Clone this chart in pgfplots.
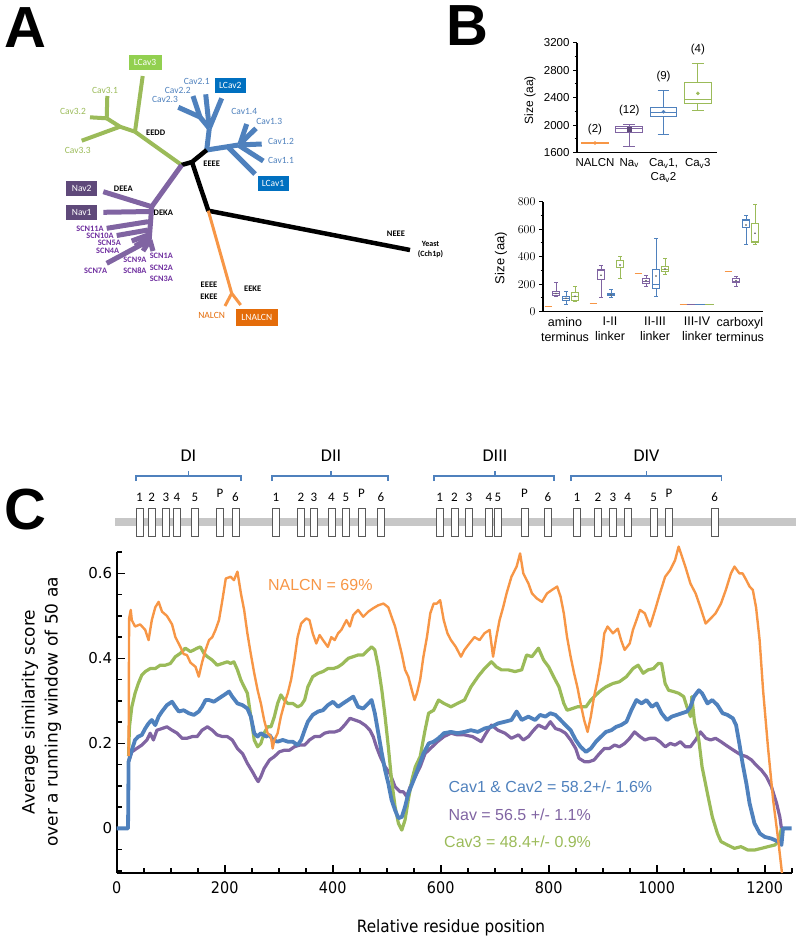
\documentclass[border=0pt]{standalone}
\usepackage{fontspec}
\setmainfont{Liberation Sans}
\newfontfamily\carlito{Carlito}
\newfontfamily\dejavu{DejaVu Sans}
\newfontfamily\dejacond{DejaVu Sans Condensed}
\usepackage{pgfplots}
\pgfplotsset{compat=1.18}
\newcommand{\fs}[1]{\fontsize{#1}{#1}\selectfont}
\definecolor{cOr}{HTML}{F79646}
\definecolor{cPu}{HTML}{8064A2}
\definecolor{cBl}{HTML}{4F81BD}
\definecolor{cGr}{HTML}{9BBB59}
\definecolor{cGrBox}{HTML}{92D050}
\definecolor{cBlBox}{HTML}{0070C0}
\definecolor{cPuBox}{HTML}{5F497A}
\definecolor{cOrBox}{HTML}{E46C0A}
\definecolor{cPuTxt}{HTML}{7030A0}
\pgfdeclareplotmark{dbox}{\pgfpathrectangle{\pgfpoint{-3.5pt}{-14pt}}{\pgfpoint{7pt}{28pt}}\pgfusepathqfillstroke}
% box: #1 colour, #2 x, #3 half width, #4 half cap, #5 low whisker, #6 q1, #7 median, #8 q3, #9 high whisker
\newcommand{\bxp}[9]{%
 \pgfmathsetmacro{\xa}{#2-#3}\pgfmathsetmacro{\xb}{#2+#3}%
 \pgfmathsetmacro{\ca}{#2-#4}\pgfmathsetmacro{\cb}{#2+#4}%
 \edef\bxptmp{%
  \noexpand\addplot[#1, line width=1pt, line join=miter] coordinates {(\xa,#6)(\xb,#6)(\xb,#8)(\xa,#8)(\xa,#6)(\xb,#6)};
  \noexpand\addplot[#1, line width=1pt] coordinates {(\xa,#7)(\xb,#7)};
  \noexpand\addplot[#1, line width=1pt] coordinates {(#2,#8)(#2,#9)};
  \noexpand\addplot[#1, line width=1pt] coordinates {(#2,#6)(#2,#5)};
  \noexpand\addplot[#1, line width=1pt] coordinates {(\ca,#9)(\cb,#9)};
  \noexpand\addplot[#1, line width=1pt] coordinates {(\ca,#5)(\cb,#5)};}%
 \bxptmp}
\tikzset{
 tl/.style={font=\carlito\fs{9.5}},
 tb/.style={font=\carlito\bfseries\fs{8.5}},
 ts/.style={font=\carlito\bfseries\fs{8.3}, text=cPuTxt, inner sep=0pt},
 bx/.style={font=\carlito\fs{9.5}, text=white, inner sep=0pt, minimum height=15pt, minimum width=31pt},
}
\begin{document}
\begin{tikzpicture}
\path[use as bounding box] (0pt,0pt) rectangle (796pt,-943pt);
% panel letters
\node[font=\bfseries\fs{58}] at (25pt,-28pt) {A};
\node[font=\bfseries\fs{58}] at (467pt,-26pt) {B};
\node[font=\bfseries\fs{58}] at (25pt,-510pt) {C};

% ---------------- Panel A: tree ----------------
\begin{axis}[at={(0pt,-330pt)}, anchor=south west, scale only axis, width=420pt, height=330pt,
  xmin=0, xmax=420, ymin=0, ymax=330, y dir=reverse, axis lines=none, clip=false]
% green
\addplot[cGr, line width=4pt] coordinates {(181.7,165)(135,131.7)};
\addplot[cGr, line width=4pt] coordinates {(135,131.7)(142.7,76)};
\addplot[cGr, line width=4pt] coordinates {(135,131.7)(120,126.7)};
\addplot[cGr, line width=4pt] coordinates {(120,126.7)(81.7,140.7)};
\addplot[cGr, line width=4pt] coordinates {(120,126.7)(106.7,118.3)};
\addplot[cGr, line width=4pt] coordinates {(106.7,118.3)(107.3,96)};
\addplot[cGr, line width=4pt] coordinates {(106.7,118.3)(90,117.3)};
% blue
\addplot[cBl, line width=5pt] coordinates {(206.7,150)(209.3,128.3)};
\addplot[cBl, line width=5pt] coordinates {(209.3,128.3)(221.7,98.3)};
\addplot[cBl, line width=5pt] coordinates {(209.3,128.3)(205.7,94.3)};
\addplot[cBl, line width=5pt] coordinates {(209.3,128.3)(200,117)};
\addplot[cBl, line width=5pt] coordinates {(200,117)(193,96)};
\addplot[cBl, line width=5pt] coordinates {(200,117)(178.3,107.3)};
\addplot[cBl, line width=5pt] coordinates {(206.7,150)(238.3,145)};
\addplot[cBl, line width=5pt] coordinates {(228,147)(255,174)};
\addplot[cBl, line width=5pt] coordinates {(238.3,145)(263.3,161)};
\addplot[cBl, line width=5pt] coordinates {(238.3,145)(261.7,144)};
\addplot[cBl, line width=5pt] coordinates {(240,144)(256,128.3)};
\addplot[cBl, line width=5pt] coordinates {(240,144)(246.7,124)};
% black
\addplot[black, line width=4.5pt, line join=round] coordinates {(181.7,165)(192,162)(206.7,150)};
\addplot[black, line width=4.5pt, line join=round] coordinates {(192,162)(208.3,210.7)(410,250)};
% purple
\addplot[cPu, line width=5pt] coordinates {(181.7,165)(151.7,206.7)};
\addplot[cPu, line width=5pt] coordinates {(151.7,206.7)(103.3,191.7)};
\addplot[cPu, line width=5pt] coordinates {(150,211.5)(103.3,212.3)};
\addplot[cPu, line width=5pt] coordinates {(151.7,206.7)(149,242)};
\addplot[cPu, line width=5pt] coordinates {(148,221.7)(106.7,228.3)};
\addplot[cPu, line width=5pt] coordinates {(148,230)(116.7,235.5)};
\addplot[cPu, line width=5pt] coordinates {(148,235)(131.7,241)};
\addplot[cPu, line width=5pt] coordinates {(149,238)(135,246)};
\addplot[cPu, line width=5pt] coordinates {(150,240)(106.7,263.3)};
\addplot[cPu, line width=5pt] coordinates {(150,240)(143,251)};
\addplot[cPu, line width=5pt] coordinates {(150,240)(153,251)};
% orange
\addplot[cOr, line width=3pt] coordinates {(208.3,210.7)(231.7,293.3)};
\addplot[cOr, line width=3pt] coordinates {(231.7,293.3)(225,306)};
\addplot[cOr, line width=3pt] coordinates {(231.7,293.3)(240.7,305)};
% labels
\node[bx, fill=cGrBox, minimum width=33pt] at (axis cs:145,62.5) {LCav3};
\node[bx, fill=cBlBox] at (axis cs:230.3,85.8) {LCav2};
\node[bx, fill=cBlBox] at (axis cs:273,183) {LCav1};
\node[bx, fill=cPuBox] at (axis cs:81.7,188.5) {Nav2};
\node[bx, fill=cPuBox] at (axis cs:81.7,212.3) {Nav1};
\node[bx, fill=cOrBox, minimum width=42pt, minimum height=17pt] at (axis cs:256.8,317) {LNALCN};
\node[tl, text=cGr] at (axis cs:105,90) {Cav3.1};
\node[tl, text=cGr] at (axis cs:73,111.7) {Cav3.2};
\node[tl, text=cGr] at (axis cs:77.7,150) {Cav3.3};
\node[tl, text=cBl] at (axis cs:196.7,81.7) {Cav2.1};
\node[tl, text=cBl] at (axis cs:177.7,90) {Cav2.2};
\node[tl, text=cBl] at (axis cs:165,99) {Cav2.3};
\node[tl, text=cBl] at (axis cs:244.3,111.7) {Cav1.4};
\node[tl, text=cBl] at (axis cs:269.3,121.7) {Cav1.3};
\node[tl, text=cBl] at (axis cs:281,141.7) {Cav1.2};
\node[tl, text=cBl] at (axis cs:281,160) {Cav1.1};
\node[tb] at (axis cs:155.7,132.3) {EEDD};
\node[tb] at (axis cs:211.7,164) {EEEE};
\node[tb] at (axis cs:123.3,188.3) {DEEA};
\node[tb] at (axis cs:163.3,212.3) {DEKA};
\node[tb] at (axis cs:209,285) {EEEE};
\node[tb] at (axis cs:209,296.7) {EKEE};
\node[tb] at (axis cs:252.7,288.3) {EEKE};
\node[tb] at (axis cs:396,234) {NEEE};
\node[tb, align=center, font=\carlito\bfseries\fs{8}, inner sep=0pt] at (axis cs:430.5,250) {Yeast\\[2pt](Cch1p)};
\node[tl, text=cOrBox] at (axis cs:211.7,315) {NALCN};
\node[ts] at (axis cs:90,228.3) {SCN11A};
\node[ts] at (axis cs:100,235.5) {SCN10A};
\node[ts] at (axis cs:109.3,242.5) {SCN5A};
\node[ts] at (axis cs:107.7,250.5) {SCN4A};
\node[ts] at (axis cs:95.7,270.7) {SCN7A};
\node[ts] at (axis cs:135,260) {SCN9A};
\node[ts] at (axis cs:135,271) {SCN8A};
\node[ts] at (axis cs:161.3,256) {SCN1A};
\node[ts] at (axis cs:161.3,267.3) {SCN2A};
\node[ts] at (axis cs:161.3,278.3) {SCN3A};
\end{axis}

% ---------------- Panel B top ----------------
\begin{axis}[at={(577pt,-152.7pt)}, anchor=south west, scale only axis, width=140pt, height=110pt,
  xmin=0.475, xmax=4.56, ymin=1600, ymax=3200, axis lines=left, axis line style={line width=1.2pt,-},
  ytick={1600,2000,2400,2800,3200}, yticklabels={1600,2000,2400,2800,3200},
  minor ytick={1800,2200,2600,3000}, tick align=outside, major tick length=4pt, minor tick length=2.5pt,
  ytick style={black, line width=1pt}, xtick={1,2,3,4}, xtick style={draw=none},
  xticklabels={NALCN, Na\textsubscript{v}, {Ca\textsubscript{v}1,\\Ca\textsubscript{v}2}, Ca\textsubscript{v}3},
  xticklabel style={align=center, font=\fontsize{11.5}{14}\selectfont, yshift=2pt}, yticklabel style={font=\fs{11.5}},
  clip=false]
\addplot[cOr, line width=1.3pt] coordinates {(0.6,1740)(1.4,1740)};
\addplot[only marks, mark=*, mark size=1.6pt, cOr] coordinates {(1,1740)};
\bxp{cPu}{2}{0.4}{0.17}{1687}{1896}{1950}{1978}{2017}
\addplot[only marks, mark=square*, mark size=2pt, cPuBox] coordinates {(2,1940)};
\bxp{cBl}{3}{0.38}{0.17}{1871}{2133}{2180}{2259}{2511}
\addplot[only marks, mark=*, mark size=1.6pt, cBl] coordinates {(3,2196)};
\bxp{cGr}{4}{0.4}{0.17}{2221}{2318}{2376}{2618}{2899}
\addplot[only marks, mark=*, mark size=1.6pt, cGr] coordinates {(4,2463)};
\node[font=\fs{11.5}] at (axis cs:1,1930) {(2)};
\node[font=\fs{11.5}] at (axis cs:2,2220) {(12)};
\node[font=\fs{11.5}] at (axis cs:3,2705) {(9)};
\node[font=\fs{11.5}] at (axis cs:4,3103) {(4)};
\end{axis}
\node[rotate=90, font=\fs{12}] at (530pt,-100pt) {Size (aa)};

% ---------------- Panel B bottom ----------------
\begin{axis}[at={(543pt,-311.7pt)}, anchor=south west, scale only axis, width=220pt, height=110pt,
  xmin=543, xmax=763, ymin=0, ymax=800, axis lines=left, axis line style={line width=1.2pt,-},
  ytick={0,200,400,600,800}, minor ytick={100,300,500,700}, tick align=outside,
  major tick length=4pt, minor tick length=2.5pt, ytick style={black, line width=1pt},
  xtick={565,610,655,697,740}, xtick style={draw=none},
  xticklabels={amino\\terminus, I-II\\linker, II-III\\linker, III-IV\\linker, carboxyl\\terminus},
  xticklabel style={align=center, font=\fontsize{12.5}{15}\selectfont, yshift=2pt},
  yticklabel style={font=\fs{13}}, clip=false]
% amino
\addplot[cOr, line width=1.2pt] coordinates {(544.5,40)(551.5,40)};
\bxp{cPu}{556}{3.5}{2}{110}{120}{130}{145}{210}
\bxp{cBl}{566}{3.5}{2}{50}{80}{95}{110}{150}
\bxp{cGr}{575}{3.5}{2}{75}{85}{110}{140}{185}
% I-II
\addplot[cOr, line width=1.2pt] coordinates {(589.5,60)(596.5,60)};
\bxp{cPu}{601}{3.5}{2}{100}{235}{300}{310}{335}
\bxp{cBl}{611}{3.5}{2}{100}{115}{122}{130}{160}
\bxp{cGr}{620}{3.5}{2}{240}{320}{370}{375}{400}
% II-III
\addplot[cOr, line width=1.2pt] coordinates {(634.5,280)(641.5,280)};
\bxp{cPu}{646}{3.5}{2}{185}{205}{222}{240}{265}
\bxp{cBl}{656}{3.5}{2}{110}{170}{200}{310}{530}
\bxp{cGr}{665}{3.5}{2}{270}{290}{305}{330}{385}
% III-IV
\addplot[cOr, line width=1.2pt] coordinates {(679.5,50)(686.5,50)};
\addplot[cPu, line width=1.2pt] coordinates {(686.5,50)(695,50)};
\addplot[cBl, line width=1.2pt] coordinates {(695,50)(705,50)};
\addplot[cGr, line width=1.2pt] coordinates {(705,50)(714,50)};
% carboxyl
\addplot[cOr, line width=1.2pt] coordinates {(724.5,290)(731.5,290)};
\bxp{cPu}{736}{3.5}{2}{185}{210}{222}{240}{255}
\bxp{cBl}{746}{3.5}{2}{490}{610}{665}{670}{700}
\bxp{cGr}{755}{3.5}{2}{490}{500}{510}{645}{780}
% means
\addplot[only marks, mark=*, mark size=0.6pt, black!60] coordinates {(556,132)(566,98)(575,112)(601,265)(611,122)(620,340)(646,225)(656,260)(665,310)(736,225)(746,630)(755,570)};
\end{axis}
\node[rotate=90, font=\fs{13}] at (501pt,-258pt) {Size (aa)};

% ---------------- Panel C: domain diagram ----------------
\begin{axis}[at={(0pt,-540pt)}, anchor=south west, scale only axis, width=796pt, height=100pt,
  xmin=0, xmax=796, ymin=440, ymax=540, y dir=reverse, axis lines=none, clip=false]
\addplot[black!22, line width=8pt] coordinates {(115,522)(796,522)};
\addplot[only marks, mark=dbox, mark options={fill=white, draw=black!65, line width=0.8pt}] coordinates {
(139.5,522)(151.6,522)(166,522)(177,522)(195,522)(220,522)(235.5,522)
(276,522)(301,522)(314,522)(331.5,522)(346,522)(361.6,522)(381,522)
(439.7,522)(454.5,522)(469,522)(489,522)(498,522)(524.5,522)(548,522)
(577,522)(598,522)(613,522)(627.7,522)(653.7,522)(669,522)(714.7,522)};
\addplot[only marks, mark=none, nodes near coords, point meta=explicit symbolic,
  nodes near coords align={center}, every node near coord/.append style={font=\carlito\fs{13}, inner sep=0pt}]
  table[meta=l] {
x y l
139.5 497 1
151.6 497 2
166 497 3
177 497 4
195 497 5
220 493 P
235.5 497 6
276 497 1
301 497 2
314 497 3
331.5 497 4
346 497 5
361.6 493 P
381 497 6
439.7 497 1
454.5 497 2
469 497 3
489 497 4
498 497 5
524.5 493 P
548 497 6
577 497 1
598 497 2
613 497 3
627.7 497 4
653.7 497 5
669 493 P
714.7 497 6
};
% braces
\addplot[cBl, line width=1.6pt] coordinates {(136,481)(136,476)(241,476)(241,481)};
\addplot[cBl, line width=1.6pt] coordinates {(188.4,476)(188.4,471)};
\addplot[cBl, line width=1.6pt] coordinates {(272,481)(272,476)(388,476)(388,481)};
\addplot[cBl, line width=1.6pt] coordinates {(331,476)(331,471)};
\addplot[cBl, line width=1.6pt] coordinates {(434,481)(434,476)(554,476)(554,481)};
\addplot[cBl, line width=1.6pt] coordinates {(495,476)(495,471)};
\addplot[cBl, line width=1.6pt] coordinates {(571,481)(571,476)(721.5,476)(721.5,481)};
\addplot[cBl, line width=1.6pt] coordinates {(646.5,476)(646.5,471)};
\node[font=\carlito\fs{18}] at (axis cs:188.4,456) {DI};
\node[font=\carlito\fs{18}] at (axis cs:331,456) {DII};
\node[font=\carlito\fs{18}] at (axis cs:495,456) {DIII};
\node[font=\carlito\fs{18}] at (axis cs:646.5,456) {DIV};
\end{axis}

% ---------------- Panel C: similarity plot ----------------
\begin{axis}[at={(116.7pt,-873pt)}, anchor=south west, scale only axis, width=675pt, height=321.3pt,
  xmin=0, xmax=1250, ymin=-0.105, ymax=0.651, axis lines=left, axis line style={line width=2.4pt,-},
  clip=false, tick align=inside,
  xtick={0,200,...,1200}, minor xtick={50,100,...,1250},
  ytick={0,0.2,0.4,0.6}, yticklabels={0,0.2,0.4,0.6},
  minor ytick={-0.1,-0.05,0.05,0.1,0.15,0.25,0.3,0.35,0.45,0.5,0.55,0.65},
  major tick length=8pt, minor tick length=5pt,
  every tick/.style={black, line width=1.6pt},
  /pgf/number format/assume math mode=true,
  /pgf/number format/1000 sep={},
  xticklabel style={font=\dejacond\fs{16}, yshift=-5pt},
  yticklabel style={font=\dejavu\fs{15}, xshift=-1pt},
  line join=round]
% purple (Nav)
\addplot[cPu, line width=3.2pt] coordinates {
(22,0.157)(28,0.18)(37,0.188)(46.6,0.196)(56,0.208)(62,0.224)(68,0.208)(74.5,0.231)(84,0.235)(93,0.239)(102.5,0.231)(112,0.224)(121,0.212)(130,0.212)(140,0.216)(149,0.216)(158,0.231)(168,0.239)(177,0.231)(186,0.22)(195.7,0.216)(205,0.216)(214,0.208)(223.6,0.188)(233,0.176)(242,0.153)(251.5,0.133)(258,0.118)(262,0.11)(267,0.122)(273,0.141)(283,0.161)(292,0.169)(301,0.18)(310.6,0.184)(320,0.184)(329,0.192)(339,0.196)(348,0.196)(357,0.208)(366.5,0.216)(376,0.216)(385,0.224)(394,0.227)(404,0.227)(413,0.231)(422,0.243)(432,0.259)(441,0.255)(450,0.251)(459.6,0.243)(469,0.231)(475,0.216)(481,0.192)(488,0.169)(497,0.145)(506,0.129)(515.5,0.098)(525,0.086)(531,0.086)(537,0.075)(543.5,0.098)(553,0.122)(562,0.145)(571,0.176)(581,0.188)(594,0.204)(606,0.216)(619,0.224)(631,0.22)(644,0.22)(659,0.216)(675,0.204)(684,0.224)(694,0.243)(706,0.231)(719,0.224)(731,0.212)(744,0.22)(753,0.208)(762.5,0.216)(772,0.231)(781,0.243)(794,0.235)(803,0.251)(812.5,0.235)(822,0.231)(831,0.224)(840.6,0.208)(850,0.188)(856,0.165)(866,0.157)(875,0.157)(884,0.161)(894,0.176)(903,0.188)(912.5,0.188)(922,0.196)(931,0.192)(941,0.2)(950,0.212)(959,0.227)(969,0.216)(978,0.208)(987.5,0.212)(997,0.212)(1006,0.204)(1016,0.192)(1025,0.2)(1034,0.196)(1044,0.204)(1053,0.192)(1062.5,0.192)(1072,0.208)(1081,0.227)(1091,0.212)(1100,0.208)(1109,0.212)(1119,0.204)(1128,0.196)(1137.5,0.188)(1147,0.18)(1156,0.173)(1166,0.169)(1175.6,0.161)(1184,0.149)(1194,0.137)(1203,0.122)(1212.5,0.098)(1222,0.059)(1228,0.027)(1231,0)};
% green (Cav3)
\addplot[cGr, line width=3.2pt] coordinates {
(22,0.17)(23.6,0.239)(28,0.286)(34,0.318)(40,0.341)(46.6,0.361)(52.8,0.369)(62,0.376)(71.4,0.376)(80.7,0.384)(90,0.384)(99.4,0.388)(108.7,0.404)(118,0.412)(127,0.424)(136.6,0.416)(143,0.42)(149,0.424)(155,0.427)(161.5,0.412)(168,0.404)(177,0.396)(186,0.384)(195.7,0.388)(205,0.392)(211,0.388)(217,0.392)(223.6,0.373)(230,0.349)(236,0.333)(242,0.318)(248.4,0.263)(254.7,0.208)(261,0.192)(267,0.2)(273,0.224)(279.5,0.239)(285.7,0.239)(292,0.263)(298,0.294)(304,0.314)(310.6,0.302)(316.8,0.294)(326,0.294)(335,0.286)(341.6,0.29)(348,0.302)(354,0.333)(363,0.357)(373,0.365)(382,0.369)(391,0.376)(401,0.376)(410,0.38)(419,0.388)(428.6,0.4)(438,0.404)(447,0.408)(456.5,0.408)(466,0.42)(472,0.427)(478,0.42)(484.5,0.38)(491,0.325)(497,0.263)(503,0.192)(509,0.114)(515.5,0.051)(521.7,0.012)(528,-0.004)(534,0.02)(540,0.067)(546.6,0.114)(553,0.145)(562,0.169)(571,0.231)(577.6,0.271)(587,0.278)(596,0.302)(606,0.294)(619,0.286)(631,0.294)(644,0.302)(656,0.333)(669,0.357)(681,0.376)(694,0.392)(703,0.38)(712.5,0.373)(725,0.373)(737.5,0.369)(750,0.373)(759,0.408)(769,0.404)(781,0.424)(790.6,0.396)(800,0.38)(809,0.357)(819,0.333)(828,0.294)(834,0.278)(844,0.282)(853,0.286)(862.5,0.286)(869,0.286)(878,0.302)(887.5,0.314)(897,0.325)(906,0.333)(919,0.341)(931,0.345)(944,0.357)(956,0.376)(965.6,0.384)(975,0.365)(984,0.373)(994,0.376)(1003,0.388)(1009,0.388)(1015.6,0.341)(1022,0.325)(1031,0.322)(1040.6,0.318)(1050,0.31)(1056,0.286)(1062.5,0.263)(1065,0.31)(1070,0.25)(1078,0.208)(1084,0.145)(1094,0.082)(1103,0.027)(1112.5,-0.012)(1119,-0.031)(1131,-0.039)(1144,-0.047)(1156,-0.043)(1169,-0.051)(1181,-0.051)(1194,-0.047)(1206,-0.043)(1219,-0.039)(1225,-0.031)(1231,0)};
% blue (Cav1 & Cav2)
\addplot[cBl, line width=3.8pt] coordinates {
(0,0)(21,0)(22,0.157)(28,0.184)(34,0.208)(40,0.216)(46.6,0.22)(52.8,0.235)(59,0.247)(65,0.255)(71.4,0.243)(77.6,0.263)(83.9,0.275)(93,0.29)(102.5,0.298)(108.7,0.286)(115,0.275)(124,0.278)(133.5,0.271)(143,0.267)(152,0.275)(158,0.286)(164.6,0.302)(171,0.302)(180,0.298)(189.4,0.306)(199,0.314)(208,0.322)(214,0.31)(223.6,0.294)(233,0.29)(242,0.282)(248.4,0.263)(254.7,0.224)(261,0.216)(267,0.224)(276.4,0.216)(283,0.22)(289,0.208)(298,0.204)(307.5,0.208)(317,0.204)(326,0.204)(335,0.196)(341.6,0.208)(348,0.231)(354,0.251)(363,0.267)(373,0.275)(382,0.278)(391,0.29)(400.6,0.298)(410,0.286)(419,0.294)(428.6,0.302)(438,0.31)(447,0.286)(456.5,0.282)(466,0.294)(472,0.302)(478,0.271)(484.5,0.224)(491,0.176)(497,0.137)(503,0.106)(509,0.067)(515.5,0.043)(521.7,0.024)(528,0.027)(534,0.051)(540,0.082)(550,0.114)(559,0.145)(568,0.176)(578,0.2)(587,0.204)(596,0.212)(606,0.224)(619,0.227)(631,0.224)(644,0.227)(656,0.231)(669,0.227)(681,0.235)(694,0.239)(706,0.247)(719,0.251)(731,0.255)(740.6,0.275)(750,0.255)(762.5,0.263)(775,0.255)(784,0.267)(794,0.263)(803,0.271)(812.5,0.267)(822,0.255)(831,0.243)(840.6,0.231)(850,0.208)(859,0.192)(869,0.18)(878,0.188)(887.5,0.204)(897,0.216)(906,0.227)(916,0.231)(925,0.239)(934,0.243)(944,0.251)(953,0.278)(962.5,0.302)(972,0.294)(981,0.302)(991,0.286)(1000,0.294)(1009,0.271)(1019,0.255)(1028,0.263)(1037.5,0.267)(1047,0.271)(1056,0.275)(1062.5,0.286)(1069,0.31)(1078,0.325)(1084,0.318)(1094,0.294)(1103,0.302)(1112.5,0.29)(1122,0.271)(1131,0.267)(1141,0.259)(1147,0.243)(1153,0.2)(1159,0.153)(1166,0.106)(1172,0.059)(1181,0.012)(1191,-0.012)(1200,-0.02)(1212.5,-0.024)(1225,-0.031)(1231,-0.039)(1234,0)(1250,0)};
% orange (NALCN)
\addplot[cOr, line width=2.4pt] coordinates {
(22,0.17)(23,0.494)(26,0.514)(28,0.49)(34,0.475)(43.5,0.48)(52.8,0.467)(59,0.443)(65,0.49)(71.4,0.52)(77.6,0.533)(83.9,0.51)(93,0.5)(102.5,0.48)(108.7,0.45)(118,0.427)(124,0.41)(130,0.408)(136.6,0.39)(146,0.38)(152,0.357)(158,0.39)(164.6,0.42)(171,0.443)(177,0.45)(183,0.467)(189.4,0.49)(195.7,0.537)(202,0.588)(211,0.592)(217,0.584)(223.6,0.604)(230,0.553)(236,0.514)(242,0.459)(248.4,0.41)(254.7,0.365)(261,0.325)(267,0.294)(273,0.255)(279.5,0.224)(285.7,0.216)(288.8,0.188)(292,0.208)(298,0.224)(304,0.263)(310.6,0.294)(316.8,0.318)(323,0.35)(329,0.396)(335,0.45)(341.6,0.482)(351,0.494)(357,0.49)(363,0.459)(369.6,0.435)(375.8,0.455)(382,0.443)(391,0.427)(397.5,0.45)(403.7,0.443)(410,0.459)(416,0.467)(425.5,0.49)(431.7,0.475)(438,0.502)(447,0.514)(456.5,0.498)(466,0.51)(475,0.518)(484.5,0.525)(494,0.529)(503,0.52)(509,0.498)(515.5,0.475)(521.7,0.443)(528,0.41)(534,0.373)(540,0.357)(546.6,0.325)(551.6,0.302)(556,0.318)(562,0.35)(568,0.404)(574.5,0.45)(580.7,0.506)(587,0.529)(593,0.529)(599,0.537)(605.6,0.49)(612.5,0.459)(619,0.443)(628,0.427)(637.5,0.404)(644,0.42)(653,0.435)(662.5,0.45)(672,0.443)(681,0.459)(690.6,0.467)(697,0.404)(703,0.45)(709,0.49)(715.6,0.52)(722,0.553)(731,0.592)(740.6,0.616)(747,0.647)(753,0.6)(762.5,0.576)(769,0.553)(778,0.541)(787.5,0.533)(797,0.553)(806,0.561)(815.6,0.569)(822,0.545)(828,0.506)(834,0.45)(840.6,0.404)(847,0.365)(853,0.333)(859,0.294)(865.6,0.255)(872,0.227)(878,0.263)(884,0.31)(890.6,0.349)(897,0.396)(903,0.459)(909,0.475)(919,0.459)(928,0.47)(934,0.443)(940.6,0.42)(950,0.435)(956,0.467)(962.5,0.49)(969,0.514)(978,0.506)(987.5,0.475)(997,0.514)(1006,0.553)(1015.6,0.592)(1025,0.608)(1034,0.631)(1040.6,0.663)(1047,0.639)(1053,0.616)(1062.5,0.576)(1072,0.553)(1081,0.52)(1090.6,0.482)(1100,0.494)(1109,0.506)(1119,0.529)(1128,0.561)(1137.5,0.6)(1144,0.616)(1153,0.6)(1159,0.6)(1166,0.584)(1172,0.569)(1178,0.561)(1184,0.52)(1190.6,0.443)(1197,0.325)(1206,0.192)(1215.6,0.067)(1225,-0.027)(1232,-0.105)};
\node[text=cOr, font=\fs{16}] at (axis cs:377,0.573) {NALCN = 69\%};
\node[text=cBl, font=\fs{16}, anchor=west] at (axis cs:608,0.097) {Cav1 \& Cav2 = 58.2+/- 1.6\%};
\node[text=cPu, font=\fs{16}, anchor=west] at (axis cs:608,0.033) {Nav = 56.5 +/- 1.1\%};
\node[text=cGr, font=\fs{16}, anchor=west] at (axis cs:600,-0.031) {Cav3 = 48.4+/- 0.9\%};
\end{axis}
\node[rotate=90, font=\dejavu\fs{17}] at (30pt,-712pt) {Average similarity score};
\node[rotate=90, font=\dejavu\fs{17}] at (53pt,-712pt) {over a running window of 50 aa};
\node[font=\dejacond\fs{17}] at (451pt,-928pt) {Relative residue position};
\end{tikzpicture}
\end{document}
